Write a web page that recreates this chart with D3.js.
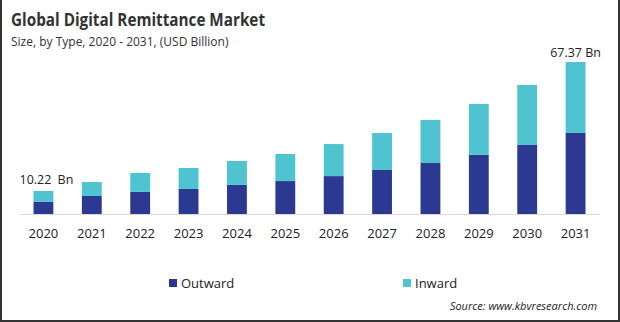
<!DOCTYPE html>
<html>
<head>
<meta charset="utf-8">
<script src="https://cdn.jsdelivr.net/npm/d3@7"></script>
<style>
  body { margin: 0; background: #fff; }
  svg { display: block; font-family: "Open Sans", "Noto Sans", sans-serif; }
</style>
</head>
<body>
<div id="chart"></div>
<script>
// data
const years = ["2020", "2021", "2022", "2023", "2024", "2025", "2026", "2027", "2028", "2029", "2030", "2031"];
const outward = [5.4, 8.0, 9.8, 11.1, 12.9, 14.6, 16.8, 19.5, 22.6, 26.2, 30.6, 35.9];
const inward = [4.82, 6.2, 8.4, 9.3, 10.6, 12.0, 14.2, 16.4, 19.1, 22.6, 26.6, 31.47];
const seriesNames = ["Outward", "Inward"];
const firstLabel = "10.22 Bn";
const lastLabel = "67.37 Bn";

const colors = { Outward: "#2b3990", Inward: "#4fc3cf" };

// chart size
const width = 620;
const height = 322;
const margin = { top: 62, bottom: 108, left: 19, right: 20 };

const svg = d3.select("#chart")
  .append("svg")
  .attr("width", width)
  .attr("height", height);

// frame
svg.append("path")
  .attr("d", `M1,0 V${height - 1} H${width - 1} V0`)
  .attr("fill", "none")
  .attr("stroke", "#333")
  .attr("stroke-width", 2);

// title
svg.append("text")
  .attr("x", 11).attr("y", 26)
  .attr("font-size", 17).attr("font-weight", "bold")
  .attr("textLength", 254).attr("lengthAdjust", "spacingAndGlyphs")
  .attr("fill", "#333")
  .text("Global Digital Remittance Market");

svg.append("text")
  .attr("x", 11).attr("y", 46)
  .attr("font-size", 12)
  .attr("fill", "#333")
  .text("Size, by Type,  2020 - 2031, (USD Billion)");

const data = years.map((y, i) => ({ year: y, Outward: outward[i], Inward: inward[i] }));
const stacked = d3.stack().keys(seriesNames)(data);

const xScale = d3.scaleBand()
  .domain(years)
  .range([margin.left, width - margin.right])
  .paddingInner(0.59)
  .paddingOuter(0.3);

const yScale = d3.scaleLinear()
  .domain([0, 67.37])
  .range([height - margin.bottom, margin.top]);

// bars
svg.selectAll(".series")
  .data(stacked)
  .enter().append("g")
  .attr("fill", d => colors[d.key])
  .selectAll("rect")
  .data(d => d)
  .enter().append("rect")
  .attr("x", d => xScale(d.data.year))
  .attr("width", xScale.bandwidth())
  .attr("y", d => yScale(d[1]))
  .attr("height", d => yScale(d[0]) - yScale(d[1]));

// x-axis
const xAxis = svg.append("g")
  .attr("transform", `translate(0,${yScale(0)})`)
  .call(d3.axisBottom(xScale).tickSize(0).tickPadding(15));
xAxis.select(".domain").attr("stroke", "#d9d9d9").attr("stroke-width", 1);
xAxis.selectAll("text")
  .attr("font-size", 13)
  .attr("font-family", "\"Open Sans\", \"Noto Sans\", sans-serif")
  .attr("fill", "#222");

// value labels
const total = (i) => outward[i] + inward[i];
svg.append("text")
  .attr("x", xScale(years[0]) + xScale.bandwidth() / 2 + 3)
  .attr("y", yScale(total(0)) - 7)
  .attr("text-anchor", "middle")
  .attr("font-size", 12.5)
  .attr("word-spacing", 3)
  .attr("fill", "#222")
  .text(firstLabel);

const last = years.length - 1;
svg.append("text")
  .attr("x", xScale(years[last]) + xScale.bandwidth() / 2)
  .attr("y", yScale(total(last)) - 5)
  .attr("text-anchor", "middle")
  .attr("font-size", 12.5)
  .attr("fill", "#222")
  .text(lastLabel);

// legend
const legendX = [169, 403];
const legend = svg.selectAll(".legend")
  .data(seriesNames)
  .enter().append("g")
  .attr("transform", (d, i) => `translate(${legendX[i]},279)`);
legend.append("rect")
  .attr("width", 8).attr("height", 8)
  .attr("fill", d => colors[d]);
legend.append("text")
  .attr("x", 12).attr("y", 9)
  .attr("font-size", 13)
  .attr("fill", "#222")
  .text(d => d);

// source
svg.append("text")
  .attr("x", 597).attr("y", 310)
  .attr("text-anchor", "end")
  .attr("font-size", 11)
  .attr("font-style", "italic")
  .attr("fill", "#222")
  .text("Source: www.kbvresearch.com");
</script>
</body>
</html>
